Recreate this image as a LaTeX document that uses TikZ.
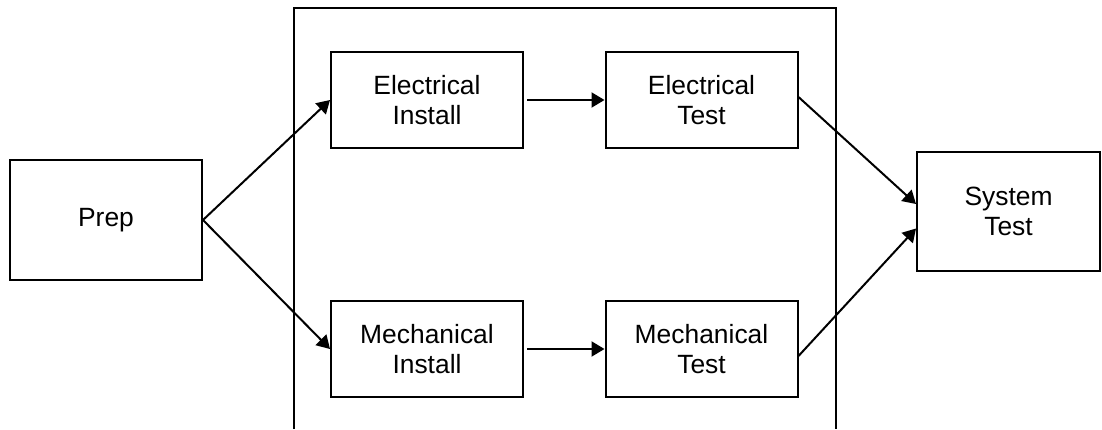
\documentclass[tikz,border=0pt]{standalone}
\usepackage{fontspec}
\setmainfont{Liberation Sans}
\usetikzlibrary{arrows.meta}

\begin{document}
\begin{tikzpicture}[x=0.5pt,y=-0.5pt,
  stepbox/.style={draw,line width=1pt,inner sep=0pt,align=center,
    font=\fontsize{13.2}{15}\selectfont},
  flow/.style={line width=1pt,-{Triangle[length=6.5pt,width=7.5pt]}}]
\useasboundingbox (0,0) rectangle (1102,429);

% outer frame, open at the bottom
\draw[line width=1pt] (294,429) -- (294,8) -- (836,8) -- (836,429);

% boxes
\node[stepbox,minimum width=96pt,minimum height=60pt] (prep) at (106,220) {Prep};
\node[stepbox,minimum width=96pt,minimum height=48pt] (elinst) at (427,100) {Electrical\\Install};
\node[stepbox,minimum width=96pt,minimum height=48pt] (eltest) at (701.5,100) {Electrical\\Test};
\node[stepbox,minimum width=96pt,minimum height=48pt] (meinst) at (427,349) {Mechanical\\Install};
\node[stepbox,minimum width=96pt,minimum height=48pt] (metest) at (701.5,349) {Mechanical\\Test};
\node[stepbox,minimum width=91.5pt,minimum height=59.5pt] (systest) at (1008.5,211.5) {System\\Test};

% arrows
\draw[flow] (prep.east) -- (elinst.west);
\draw[flow] (prep.east) -- (meinst.west);
\draw[flow,shorten <=1.5pt] (elinst.east) -- (eltest.west);
\draw[flow,shorten <=1.5pt] (meinst.east) -- (metest.west);
\draw[flow] ([yshift=1.5pt]eltest.east) -- ([yshift=3.75pt]systest.west);
\draw[flow] ([yshift=-3.5pt]metest.east) -- ([yshift=-8.5pt]systest.west);

\end{tikzpicture}
\end{document}
